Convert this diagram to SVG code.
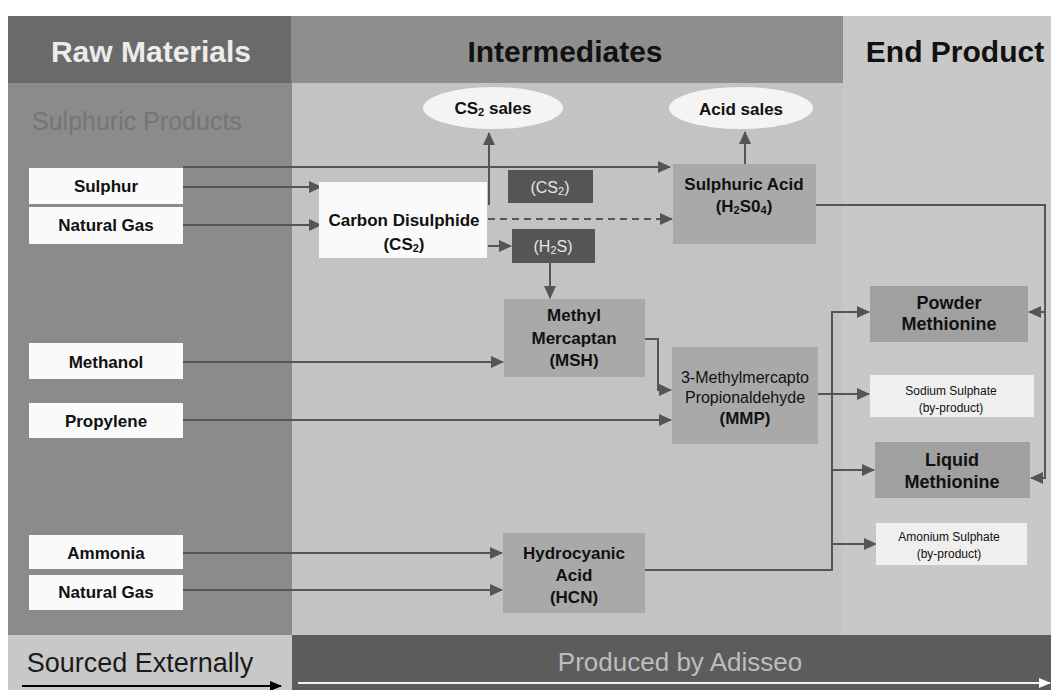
<svg xmlns="http://www.w3.org/2000/svg" width="1051" height="690" viewBox="0 0 1051 690">
<style>
text{font-family:"Liberation Sans",Arial,sans-serif;dominant-baseline:central;text-anchor:middle}
.hdr{font-size:30px;font-weight:bold}
.lbl{font-size:17px;font-weight:bold;fill:#111}
.big{font-size:18px;font-weight:bold;fill:#111}
.reg{font-size:16px;fill:#111}
.sm{font-size:12px;fill:#111}
.wbox{fill:#fafafa}
.pbox{fill:#a9a9a9}
.mbox{fill:#a0a0a0}
.dbox{fill:#555555}
.bp{fill:#efefef}
.conn{fill:none;stroke:#555555;stroke-width:2}
.dash{stroke-dasharray:7 5}
.dtxt{font-size:16px;fill:#e6e6e6}
</style>
<defs>
<marker id="ah" markerUnits="userSpaceOnUse" markerWidth="13" markerHeight="12" viewBox="0 0 13 12" refX="12" refY="6" orient="auto">
<path d="M0 0 L13 6 L0 12 z" fill="#555555"/>
</marker>
<marker id="ahk" markerUnits="userSpaceOnUse" markerWidth="12" markerHeight="10" viewBox="0 0 12 10" refX="11" refY="5" orient="auto">
<path d="M0 0 L12 5 L0 10 z" fill="#000000"/>
</marker>
<marker id="ahw" markerUnits="userSpaceOnUse" markerWidth="12" markerHeight="10" viewBox="0 0 12 10" refX="11" refY="5" orient="auto">
<path d="M0 0 L12 5 L0 10 z" fill="#ffffff"/>
</marker>
</defs>
<rect width="1051" height="690" fill="#ffffff"/>
<!-- column backgrounds -->
<rect x="8" y="16" width="283" height="67" fill="#6a6a6a"/>
<rect x="291" y="16" width="552" height="67" fill="#8e8e8e"/>
<rect x="843" y="16" width="208" height="67" fill="#c8c8c8"/>
<rect x="8" y="83" width="284" height="552" fill="#8b8b8b"/>
<rect x="292" y="83" width="551" height="552" fill="#c3c3c3"/>
<rect x="843" y="83" width="208" height="552" fill="#c8c8c8"/>
<text class="hdr" x="151" y="51" fill="#ececec">Raw Materials</text>
<text class="hdr" x="565" y="51" fill="#111">Intermediates</text>
<text class="hdr" x="955" y="51" fill="#111">End Product</text>
<text x="32" y="121" style="text-anchor:start;font-size:25px" fill="#757575">Sulphuric Products</text>
<!-- bottom band -->
<rect x="8" y="635" width="284" height="55" fill="#c8c8c8"/>
<rect x="292" y="635" width="759" height="55" fill="#5c5c5c"/>
<text x="140" y="663" style="font-size:27px" fill="#1a1a1a">Sourced Externally</text>
<text x="680" y="662" style="font-size:26px" fill="#bdbdbd">Produced by Adisseo</text>
<line x1="22" y1="686" x2="281" y2="686" stroke="#000" stroke-width="2" marker-end="url(#ahk)"/>
<line x1="298" y1="683" x2="1050" y2="683" stroke="#f2f2f2" stroke-width="2" marker-end="url(#ahw)"/>
<!-- connectors -->
<g id="connectors">
<path class="conn" d="M183 167 H670" marker-end="url(#ah)"/>
<path class="conn" d="M183 187 H321" marker-end="url(#ah)"/>
<path class="conn" d="M183 225 H321" marker-end="url(#ah)"/>
<path class="conn" d="M489 205 V133" marker-end="url(#ah)"/>
<path class="conn dash" d="M488 219 H672" marker-end="url(#ah)"/>
<path class="conn" d="M488 246 H511" marker-end="url(#ah)"/>
<path class="conn" d="M550 263 V298" marker-end="url(#ah)"/>
<path class="conn" d="M745 164 V132" marker-end="url(#ah)"/>
<path class="conn" d="M816 205 H1045 V478 H1031" marker-end="url(#ah)"/>
<path class="conn" d="M1045 312 H1029" marker-end="url(#ah)"/>
<path class="conn" d="M183 362 H503" marker-end="url(#ah)"/>
<path class="conn" d="M645 339 H658 V390 H671" marker-end="url(#ah)"/>
<path class="conn" d="M183 420 H671" marker-end="url(#ah)"/>
<path class="conn" d="M818 394 H869" marker-end="url(#ah)"/>
<path class="conn" d="M183 553 H502" marker-end="url(#ah)"/>
<path class="conn" d="M183 590 H502" marker-end="url(#ah)"/>
<path class="conn" d="M645 570 H832 V312 H869" marker-end="url(#ah)"/>
<path class="conn" d="M832 470 H874" marker-end="url(#ah)"/>
<path class="conn" d="M832 544 H876" marker-end="url(#ah)"/>
</g>
<!-- raw materials -->
<g id="sulphur"><rect class="wbox" x="29" y="168" width="154" height="36"/><text class="lbl" x="106" y="186">Sulphur</text></g>
<g id="natgas1"><rect class="wbox" x="29" y="207" width="154" height="37"/><text class="lbl" x="106" y="225">Natural Gas</text></g>
<g id="methanol"><rect class="wbox" x="29" y="343" width="154" height="36"/><text class="lbl" x="106" y="362">Methanol</text></g>
<g id="propylene"><rect class="wbox" x="29" y="403" width="154" height="35"/><text class="lbl" x="106" y="421">Propylene</text></g>
<g id="ammonia"><rect class="wbox" x="29" y="535" width="154" height="34"/><text class="lbl" x="106" y="553">Ammonia</text></g>
<g id="natgas2"><rect class="wbox" x="29" y="575" width="154" height="35"/><text class="lbl" x="106" y="592">Natural Gas</text></g>
<!-- intermediates -->
<g id="cs2sales"><ellipse cx="493" cy="108" rx="70" ry="21" fill="#f4f4f4"/><text class="lbl" x="493" y="108">CS<tspan dy="4" font-size="11">2</tspan><tspan dy="-4"> sales</tspan></text></g>
<g id="acidsales"><ellipse cx="741" cy="108" rx="72" ry="21" fill="#f4f4f4"/><text class="lbl" x="741" y="109">Acid sales</text></g>
<g id="cs2"><rect class="wbox" x="319" y="182" width="168" height="76"/><text class="lbl" x="404" y="220">Carbon Disulphide</text><text class="lbl" x="404" y="244">(CS<tspan dy="4" font-size="11">2</tspan><tspan dy="-4">)</tspan></text></g>
<g id="cs2dark"><rect class="dbox" x="508" y="170" width="85" height="33"/><text class="dtxt" x="550" y="187">(CS<tspan dy="4" font-size="11">2</tspan><tspan dy="-4">)</tspan></text></g>
<g id="h2s"><rect class="dbox" x="512" y="229" width="83" height="34"/><text class="dtxt" x="553" y="246">(H<tspan dy="4" font-size="11">2</tspan><tspan dy="-4">S)</tspan></text></g>
<g id="sulphuricacid"><rect class="pbox" x="673" y="164" width="143" height="80"/><text class="lbl" x="744" y="184">Sulphuric Acid</text><text class="lbl" x="744" y="206">(H<tspan dy="4" font-size="11">2</tspan><tspan dy="-4">S0</tspan><tspan dy="4" font-size="11">4</tspan><tspan dy="-4">)</tspan></text></g>
<g id="msh"><rect class="pbox" x="504" y="299" width="141" height="78"/><text class="lbl" x="574" y="315">Methyl</text><text class="lbl" x="574" y="338">Mercaptan</text><text class="lbl" x="574" y="360">(MSH)</text></g>
<g id="mmp"><rect class="pbox" x="672" y="347" width="146" height="97"/><text class="reg" x="745" y="377">3-Methylmercapto</text><text class="reg" x="745" y="397">Propionaldehyde</text><text class="lbl" x="745" y="418">(MMP)</text></g>
<g id="hcn"><rect class="pbox" x="503" y="533" width="142" height="80"/><text class="lbl" x="574" y="553">Hydrocyanic</text><text class="lbl" x="574" y="575">Acid</text><text class="lbl" x="574" y="597">(HCN)</text></g>
<!-- end products -->
<g id="powder"><rect class="mbox" x="870" y="286" width="158" height="56"/><text class="big" x="949" y="303">Powder</text><text class="big" x="949" y="324">Methionine</text></g>
<g id="sodium"><rect class="bp" x="870" y="375" width="164" height="42"/><text class="sm" x="951" y="391">Sodium Sulphate</text><text class="sm" x="951" y="408">(by-product)</text></g>
<g id="liquid"><rect class="mbox" x="875" y="442" width="155" height="56"/><text class="big" x="952" y="460">Liquid</text><text class="big" x="952" y="482">Methionine</text></g>
<g id="ammonium"><rect class="bp" x="876" y="523" width="151" height="42"/><text class="sm" x="949" y="537">Amonium Sulphate</text><text class="sm" x="949" y="554">(by-product)</text></g>
</svg>
